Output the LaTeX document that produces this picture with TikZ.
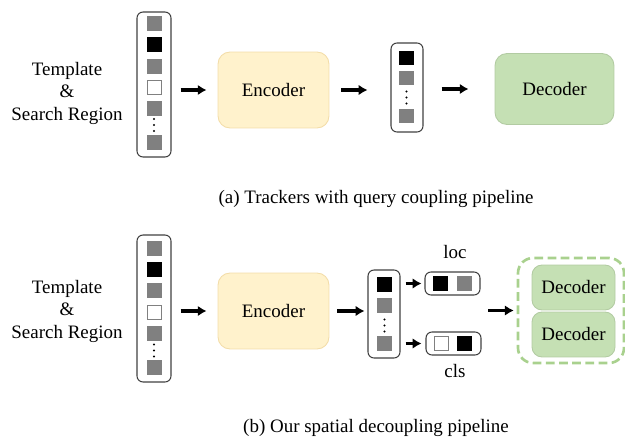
\documentclass[tikz,border=0pt]{standalone}
\usepackage{fontspec}
\setmainfont{Liberation Serif}
\usetikzlibrary{arrows.meta}

\definecolor{encfill}{HTML}{FFF2CC}
\definecolor{encline}{HTML}{F3DDA9}
\definecolor{decfill}{HTML}{C5E0B4}
\definecolor{decline}{HTML}{B2CBA2}
\definecolor{dashgreen}{HTML}{A9D18E}
\definecolor{tokgray}{HTML}{808080}

\tikzset{
  tok/.style={minimum size=3mm,inner sep=0pt,draw=none},
  tokg/.style={tok,fill=tokgray},
  tokb/.style={tok,fill=black},
  tokw/.style={tok,fill=white,draw=tokgray,line width=0.5pt,minimum size=2.8mm},
  col/.style={draw=black!75,line width=0.6pt,rounded corners=1.2mm,inner sep=0pt},
  enc/.style={draw=encline,fill=encfill,line width=0.5pt,rounded corners=2.4mm,minimum width=22.2mm,minimum height=15.2mm},
  dec/.style={draw=decline,fill=decfill,line width=0.5pt,rounded corners=2.4mm},
  lbl/.style={font=\fontsize{10.8}{12.8}\selectfont,align=center},
  arr/.style={->,line width=1.8pt},
}
\newcommand{\tokdots}[2]{\foreach \d in {-6,0,6} \fill (#1,#2+\d) circle (0.22mm);}

\begin{document}
\begin{tikzpicture}[x=0.02cm,y=-0.02cm,>={Latex[length=5pt,width=6pt]}]
        \useasboundingbox (0,0) rectangle (625,439);
        % (a) query coupling
        \node[lbl] (inA) at (67,93){Template\\\&\\Search Region};
        \node[col,minimum width=6.8mm,minimum height=29mm] (colA) at (154,84.5){};
        \node[tokg] at (154,23.5){};
        \node[tokb] at (154,44.5){};
        \node[tokg] at (154,66.5){};
        \node[tokw] at (154,87.5){};
        \node[tokg] at (154,108.5){};
        \tokdots{154}{125}
        \node[tokg] at (154,142.5){};
        \node[enc,lbl] (encA) at (273.5,90){Encoder};
        \node[col,minimum width=6.4mm,minimum height=17.8mm] (qA) at (407,87.5){};
        \node[tokb] at (406.5,58){};
        \node[tokg] at (406.5,78){};
        \tokdots{406.5}{97.5}
        \node[tokg] at (406.5,116){};
        \node[dec,lbl,minimum width=23.8mm,minimum height=14.2mm] (decA) at (554.5,89){Decoder};
        \draw[arr,shorten <=1.8mm,shorten >=2.2mm](colA.east|-encA)--(encA.west);
        \draw[arr,shorten <=2.4mm,shorten >=4.6mm](encA.east)--(encA.east-|qA.west);
        \draw[arr,shorten <=3.6mm,shorten >=5.2mm](qA.east|-decA)--(decA.west);
        \node[lbl] (capA) at (376,199){(a) Trackers with query coupling pipeline};
        % (b) spatial decoupling
        \node[lbl] (inB) at (67,311){Template\\\&\\Search Region};
        \node[col,minimum width=6.8mm,minimum height=29.4mm] (colB) at (154,308.5){};
        \node[tokg] at (154,248.5){};
        \node[tokb] at (154,269.5){};
        \node[tokg] at (154,290.5){};
        \node[tokw] at (154,312.5){};
        \node[tokg] at (154,333.5){};
        \tokdots{154}{350.5}
        \node[tokg] at (154,367.5){};
        \node[enc,lbl] (encB) at (273.5,311){Encoder};
        \node[col,minimum width=6.4mm,minimum height=17.6mm] (qB) at (384,314){};
        \node[tokb] at (384.5,284.5){};
        \node[tokg] at (384.5,305.5){};
        \tokdots{384.5}{325.5}
        \node[tokg] at (384.5,343.5){};
        \node[col,minimum width=11mm,minimum height=4.6mm] (loc) at (452.5,283.5){};
        \node[tokb] at (440.5,283.5){};
        \node[tokg] at (464.5,283.5){};
        \node[col,minimum width=11mm,minimum height=4.6mm] (cls) at (453.5,343.5){};
        \node[tokw] at (441.5,343.5){};
        \node[tokb] at (464.5,343.5){};
        \node[lbl] at (455,252){loc};
        \node[lbl] at (455,371){cls};
        \node[draw=dashgreen,line width=1.5pt,dash pattern=on 5pt off 2.5pt,rounded corners=3mm,minimum width=21.2mm,minimum height=21mm] (dbox) at (571,310.5){};
        \node[dec,lbl,minimum width=16.6mm,minimum height=9mm,rounded corners=2mm] (decB1) at (573.5,287.5){Decoder};
        \node[dec,lbl,minimum width=16.6mm,minimum height=9mm,rounded corners=2mm] (decB2) at (573.5,334.5){Decoder};
        \coordinate (split) at (488,310.5);
        \draw[arr,shorten <=1.6mm,shorten >=0.6mm](encB.east)--(encB.east-|qB.west);
        \draw[arr,shorten <=1.8mm,shorten >=2.2mm](colB.east|-encB)--(encB.west);
        \draw[arr,shorten <=1mm,shorten >=0.6mm](loc.west-|qB.east)--(loc.west);
        \draw[arr,shorten <=1mm,shorten >=0.8mm](cls.west-|qB.east)--(cls.west);
        \draw[arr,shorten >=0.6mm](split)--(dbox.west);
        \node[lbl] (capB) at (376,428){(b) Our spatial decoupling pipeline};
\end{tikzpicture}
\end{document}
